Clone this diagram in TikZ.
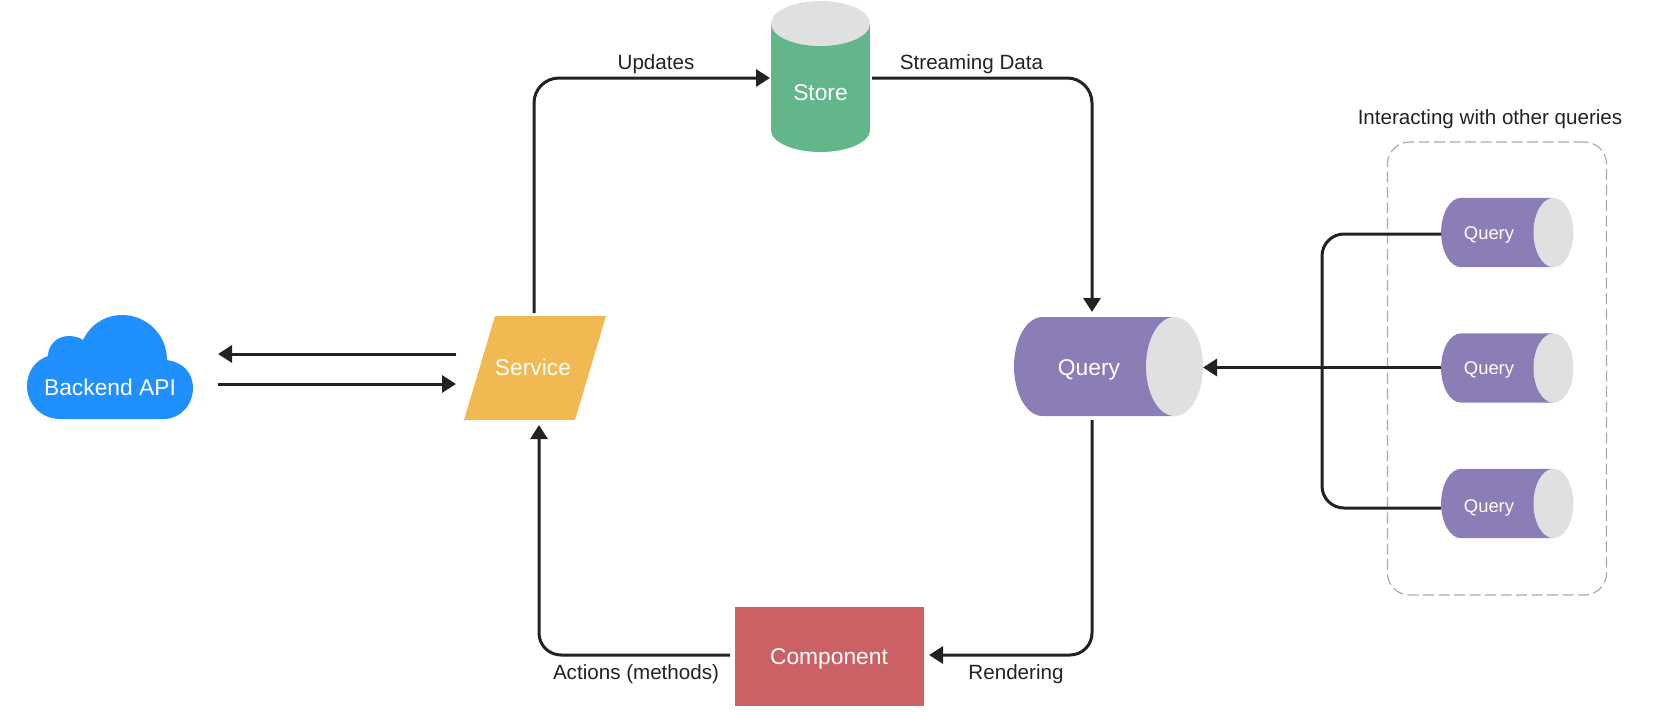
\documentclass[tikz,border=0pt]{standalone}
\usepackage{fontspec}
\setmainfont{Liberation Sans}
\usetikzlibrary{arrows.meta}
\definecolor{cblue}{HTML}{2090FF}
\definecolor{corange}{HTML}{F1B952}
\definecolor{cgreen}{HTML}{63B58A}
\definecolor{cred}{HTML}{CB6165}
\definecolor{cpurple}{HTML}{8B7DB5}
\definecolor{cend}{HTML}{E0E0E0}
\definecolor{cline}{HTML}{222222}
\definecolor{cdash}{HTML}{ABABAB}
\definecolor{ctext}{HTML}{222222}
\tikzset{
  box/.style={inner sep=0pt,outer sep=0pt,draw=none,fill=none},
  conn/.style={draw=cline,line width=3pt,rounded corners=22pt},
  arrowed/.style={conn,-{Triangle[length=14pt,width=17pt]}},
  shapetext/.style={text=white,inner sep=0pt,font=\fontsize{22.8}{26}\selectfont},
  smalltext/.style={text=white,inner sep=0pt,font=\fontsize{18.4}{22}\selectfont},
  edgetext/.style={text=ctext,inner sep=0pt,font=\fontsize{20.6}{24}\selectfont},
  group/.style={draw=cdash,line width=1.2pt,dash pattern=on 11pt off 4.5pt,rounded corners=22pt},
}
% name, cx, cy, scale, width, height
\newcommand{\querycyl}[6]{%
  \begin{scope}[shift={(#2,#3)},scale=#4]
    \fill[cpurple] (66,-49.5) -- (-66,-49.5)
      .. controls (-81.74,-49.5) and (-94.5,-27.34) .. (-94.5,0)
      .. controls (-94.5,27.34) and (-81.74,49.5) .. (-66,49.5)
      -- (66,49.5) -- cycle;
    \fill[cend] (66,0) ellipse (28.5 and 49.5);
  \end{scope}
  \node[box,minimum width=#5pt,minimum height=#6pt] (#1) at (#2,#3) {};
}
\begin{document}
\begin{tikzpicture}[x=1pt,y=-1pt]
\useasboundingbox (0,0) rectangle (1657,712);

% dashed group
\node[box,group,minimum width=219pt,minimum height=453pt] (others) at (1497,368.5) {};
\node[edgetext,anchor=center] (othersLabel) at (1490,119) {Interacting with other queries};

% cloud
\fill[cblue] (60,419) .. controls (41,419) and (27,404) .. (27,386)
  .. controls (27,371) and (36,360) .. (48,356)
  .. controls (48,345) and (57,336) .. (69,336)
  .. controls (75,336) and (80,338) .. (83,340)
  .. controls (90,325) and (105,315) .. (122,315)
  .. controls (147,315) and (167,335) .. (167,360)
  .. controls (182,362) and (193,372) .. (193,388)
  .. controls (193,405) and (180,419) .. (164,419) -- cycle;
\node[box,minimum width=166pt,minimum height=104pt] (cloud) at (110,367) {};
\node[shapetext] (cloudLabel) at (110,387) {Backend API};

% service
\fill[corange] (495,316) -- (606,316) -- (575,420) -- (464,420) -- cycle;
\node[box,minimum width=142pt,minimum height=104pt] (service) at (534,368) {};
\node[shapetext] (serviceLabel) at (533,367) {Service};

% store
\fill[cgreen] (771,23.5) rectangle (870,130);
\fill[cgreen] (820.5,130) ellipse (49.5 and 22);
\fill[cend] (820.5,23.5) ellipse (49.5 and 22.5);
\node[box,minimum width=99pt,minimum height=151pt] (store) at (820.5,76.5) {};
\node[shapetext] (storeLabel) at (820.5,93) {Store};

% component
\node[box,fill=cred,minimum width=189pt,minimum height=99pt] (component) at (829.5,656.5) {};
\node[shapetext] (componentLabel) at (829,659) {Component};

% queries
\querycyl{query}{1108.5}{366.5}{1}{189}{99}
\node[shapetext] (queryLabel) at (1089,370) {Query};
\querycyl{qa}{1507.25}{232.5}{0.7}{132.5}{69.5}
\node[smalltext] (qaLabel) at (1489,235) {Query};
\querycyl{qb}{1507.25}{368}{0.7}{132.5}{69.5}
\node[smalltext] (qbLabel) at (1489,370) {Query};
\querycyl{qc}{1507.25}{503.5}{0.7}{132.5}{69.5}
\node[smalltext] (qcLabel) at (1489,508) {Query};

% connectors
\draw[arrowed,rounded corners=0pt] ([xshift=-7pt,yshift=14pt]service.west) -- ([xshift=25pt,yshift=13pt]cloud.east);
\draw[arrowed,rounded corners=0pt] ([xshift=25pt,yshift=-17pt]cloud.east) -- ([xshift=-7pt,yshift=-16pt]service.west);
\draw[arrowed,rounded corners=25pt] ([yshift=3pt]service.north) |- ([xshift=-1pt,yshift=-1.5pt]store.west);
\draw[arrowed,rounded corners=25pt] ([xshift=2pt,yshift=-1.5pt]store.east) -| ([xshift=-16.5pt,yshift=5pt]query.north);
\draw[arrowed] ([xshift=-16.5pt,yshift=-4pt]query.south) |- ([xshift=5pt,yshift=1.5pt]component.east);
\draw[arrowed] ([xshift=-5pt,yshift=1.5pt]component.west) -| ([xshift=5pt,yshift=-5pt]service.south);
\draw[conn] ([yshift=-1.5pt]qa.west) -| (1322,370) |- ([yshift=-4.5pt]qc.west);
\draw[arrowed,rounded corners=0pt] ([yshift=0.5pt]qb.west) -- ([yshift=0.5pt]query.east |- qb.west);

% edge labels
\node[edgetext] (updates) at (656,64) {Updates};
\node[edgetext] (streaming) at (971.5,64) {Streaming Data};
\node[edgetext] (actions) at (636,674) {Actions (methods)};
\node[edgetext] (rendering) at (1016,674) {Rendering};
\end{tikzpicture}
\end{document}
